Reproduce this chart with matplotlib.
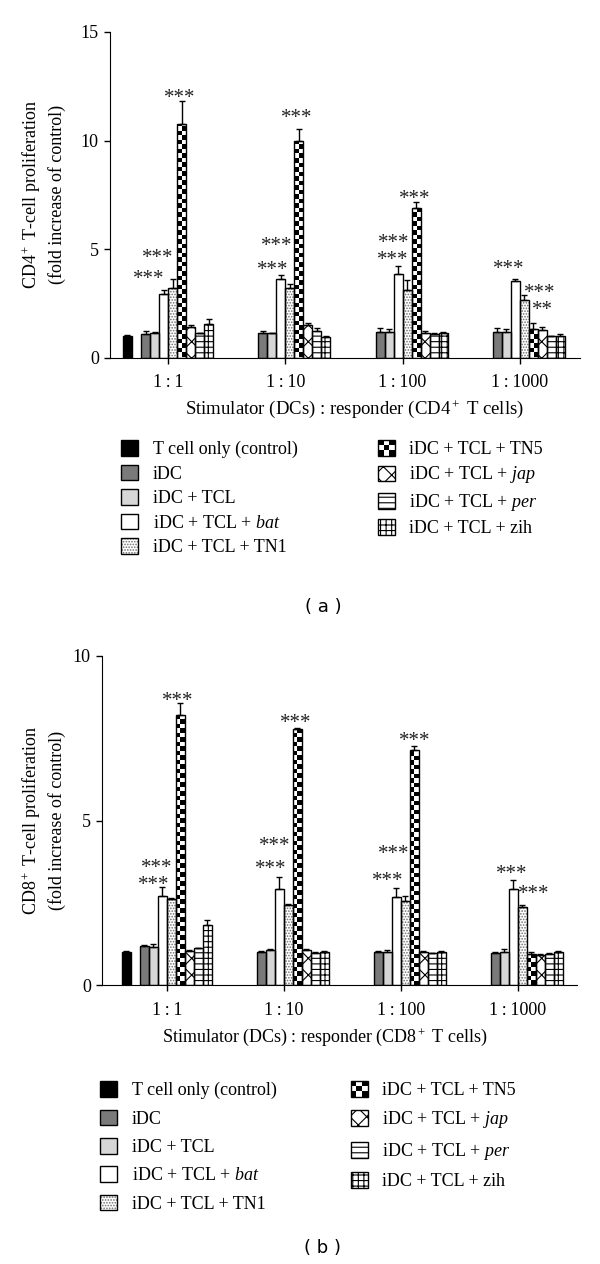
import numpy as np
import matplotlib
matplotlib.use('Agg')
import matplotlib.pyplot as plt
from matplotlib.patches import Rectangle
from matplotlib.legend_handler import HandlerBase

# Daten
groups = ['1\u2009:\u20091', '1\u2009:\u200910', '1\u2009:\u2009100', '1\u2009:\u20091000']
labels = ['T cell only (control)', 'iDC', 'iDC + TCL', 'iDC + TCL + $\\mathit{bat}$',
          'iDC + TCL + TN1', 'iDC + TCL + TN5', 'iDC + TCL + $\\mathit{jap}$',
          'iDC + TCL + $\\mathit{per}$', 'iDC + TCL + zih']
nan = np.nan

# CD4 (a)
cd4_ctrl = [1.00, nan, nan, nan]
cd4_idc = [1.10, 1.12, 1.17, 1.17]
cd4_tcl = [1.12, 1.12, 1.17, 1.17]
cd4_bat = [2.92, 3.61, 3.87, 3.52]
cd4_tn1 = [3.22, 3.18, 3.13, 2.64]
cd4_tn5 = [10.74, 9.97, 6.88, 1.33]
cd4_jap = [1.40, 1.51, 1.12, 1.28]
cd4_per = [1.12, 1.22, 1.06, 0.99]
cd4_zih = [1.56, 0.94, 1.12, 0.99]
cd4_ctrl_err = [0.04, nan, nan, nan]
cd4_idc_err = [0.12, 0.10, 0.18, 0.18]
cd4_tcl_err = [0.05, 0.03, 0.14, 0.14]
cd4_bat_err = [0.21, 0.20, 0.33, 0.12]
cd4_tn1_err = [0.40, 0.22, 0.45, 0.22]
cd4_tn5_err = [1.10, 0.58, 0.28, 0.25]
cd4_jap_err = [0.10, 0.10, 0.08, 0.12]
cd4_per_err = [0.02, 0.12, 0.06, 0.02]
cd4_zih_err = [0.23, 0.04, 0.05, 0.08]
# Sterne: Gruppe, Versatz, Hoehe, Text
cd4_star_group = [0, 0, 0, 1, 1, 1, 2, 2, 2, 3, 3, 3]
cd4_star_x = [1.3, -1.1, -2.1, 1.3, -1.0, -1.45, 1.3, -1.0, -1.1, -1.2, 2.2, 2.5]
cd4_star_y = [12.25, 4.86, 3.89, 11.3, 5.42, 4.3, 7.6, 5.55, 4.76, 4.34, 3.25, 2.45]
cd4_star_text = ['***'] * 11 + ['**']

# CD8 (b)
cd8_ctrl = [1.01, nan, nan, nan]
cd8_idc = [1.20, 1.01, 1.01, 0.98]
cd8_tcl = [1.17, 1.06, 1.01, 1.01]
cd8_bat = [2.72, 2.91, 2.68, 2.92]
cd8_tn1 = [2.62, 2.43, 2.56, 2.38]
cd8_tn5 = [8.20, 7.77, 7.14, 0.94]
cd8_jap = [1.04, 1.06, 1.01, 0.91]
cd8_per = [1.11, 0.98, 0.96, 0.94]
cd8_zih = [1.82, 1.01, 1.01, 1.01]
cd8_ctrl_err = [0.02, nan, nan, nan]
cd8_idc_err = [0.03, 0.03, 0.02, 0.03]
cd8_tcl_err = [0.07, 0.03, 0.04, 0.08]
cd8_bat_err = [0.25, 0.36, 0.28, 0.27]
cd8_tn1_err = [0.03, 0.04, 0.14, 0.05]
cd8_tn5_err = [0.36, 0.03, 0.12, 0.05]
cd8_jap_err = [0.02, 0.03, 0.02, 0.02]
cd8_per_err = [0.02, 0.02, 0.02, 0.03]
cd8_zih_err = [0.16, 0.03, 0.03, 0.03]
cd8_star_group = [0, 0, 0, 1, 1, 1, 2, 2, 2, 3, 3]
cd8_star_x = [1.2, -1.1, -1.4, 1.3, -1.0, -1.45, 1.6, -0.8, -1.4, -0.7, 1.8]
cd8_star_y = [8.81, 3.75, 3.22, 8.16, 4.41, 3.70, 7.60, 4.16, 3.34, 3.57, 2.95]
cd8_star_text = ['***'] * 11

# Stil
plt.rcParams['font.family'] = ['Liberation Serif', 'DejaVu Serif']
plt.rcParams['mathtext.fontset'] = 'custom'
plt.rcParams['mathtext.rm'] = 'Liberation Serif'
plt.rcParams['mathtext.it'] = 'Liberation Serif:italic'
plt.rcParams['mathtext.bf'] = 'Liberation Serif:bold'
plt.rcParams['hatch.linewidth'] = 0.8

fills = ['black', '#7a7a7a', '#d6d6d6', 'white', 'white', 'white', 'white', 'white', 'white']
hatches = [None, None, None, None, '......', None, 'xx', '---', '+++']
hcolors = ['black', 'black', 'black', 'black', '#6e6e6e', 'black', 'black', 'black', 'black']
offsets = [-4.5, -2.5, -1.5, -0.5, 0.5, 1.5, 2.5, 3.5, 4.5]
centers = np.arange(4) * 13.0
W, H = 600, 1264


class Checker:
    pass


class CheckerHandler(HandlerBase):
    def create_artists(self, legend, orig_handle, xdescent, ydescent, width, height, fontsize, trans):
        arts = []
        n = 3
        cw, ch = width / n, height / n
        for i in range(n):
            for j in range(n):
                c = 'black' if (i + j) % 2 == 0 else 'white'
                arts.append(Rectangle((-xdescent + i * cw, -ydescent + j * ch), cw, ch,
                                      facecolor=c, edgecolor='none', transform=trans))
        arts.append(Rectangle((-xdescent, -ydescent), width, height, facecolor='none',
                              edgecolor='black', lw=1.0, transform=trans))
        return arts


def panel(fig, rect, means, errs, stars, ymax, yticks, xlim, ylab, xlab, xlab_size):
    ax = fig.add_axes(rect)
    px_x = rect[2] * W / (xlim[1] - xlim[0])
    px_y = rect[3] * H / ymax
    cell_h = 0.5 * px_x / px_y
    for i in range(9):
        x = centers + offsets[i]
        m = np.array(means[i])
        e = np.array(errs[i])
        ok = np.isfinite(m)
        ax.bar(x[ok], m[ok], width=1.0, color=fills[i], hatch=hatches[i],
               edgecolor=hcolors[i], linewidth=0, zorder=2)
        outline = ax.bar(x[ok], m[ok], width=1.0, facecolor='none',
                         edgecolor='black', linewidth=1.0, zorder=3)
        if i == 5:
            # Schachbrett fuer TN5
            for r in outline.patches:
                n = int(np.ceil(r.get_height() / cell_h))
                arr = np.add.outer(np.arange(n), np.arange(2)) % 2
                im = ax.imshow(arr, cmap='binary', vmin=0, vmax=1, origin='lower',
                               extent=(r.get_x(), r.get_x() + 1, 0, n * cell_h),
                               interpolation='nearest', aspect='auto', zorder=2.5)
                im.set_clip_path(r)
        ax.errorbar(x[ok], m[ok], yerr=[np.zeros(ok.sum()), e[ok]], fmt='none',
                    ecolor='black', elinewidth=1.0, capsize=2.5, capthick=1.0, zorder=4)
    sg, sx, sy, st = stars
    for g, dx, y, t in zip(sg, sx, sy, st):
        ax.annotate(t, xy=(centers[g] + dx, y), xytext=(0, -8), textcoords='offset points',
                    ha='center', va='baseline', fontsize=15, color='#222222')
    ax.set_xlim(*xlim)
    ax.set_ylim(0, ymax)
    ax.set_yticks(yticks)
    ax.set_xticks(centers)
    ax.set_xticklabels(groups)
    ax.spines['top'].set_visible(False)
    ax.spines['right'].set_visible(False)
    ax.tick_params(axis='both', direction='out', length=4, width=1, labelsize=13)
    ax.tick_params(axis='x', pad=8)
    ax.tick_params(axis='y', pad=4)
    ax.set_ylabel(ylab, fontsize=13, linespacing=1.35)
    ax.set_xlabel(xlab, fontsize=xlab_size)
    return ax


fig = plt.figure(figsize=(6, 12.64), dpi=100)

ax1 = panel(fig, [110 / W, 1 - 357.5 / H, 470 / W, 325.5 / H],
            [cd4_ctrl, cd4_idc, cd4_tcl, cd4_bat, cd4_tn1, cd4_tn5, cd4_jap, cd4_per, cd4_zih],
            [cd4_ctrl_err, cd4_idc_err, cd4_tcl_err, cd4_bat_err, cd4_tn1_err, cd4_tn5_err,
             cd4_jap_err, cd4_per_err, cd4_zih_err],
            (cd4_star_group, cd4_star_x, cd4_star_y, cd4_star_text),
            15, [0, 5, 10, 15], (-6.44, 45.67),
            'CD4$^+$ T-cell proliferation\n(fold increase of control)',
            'Stimulator (DCs) : responder (CD4$^+$ T cells)', 13.5)
ax1.yaxis.set_label_coords((66 - 110) / 470, 0.5)
ax1.xaxis.set_label_coords((354 - 110) / 470, -0.125)

ax2 = panel(fig, [102 / W, 1 - 985 / H, 475 / W, 329 / H],
            [cd8_ctrl, cd8_idc, cd8_tcl, cd8_bat, cd8_tn1, cd8_tn5, cd8_jap, cd8_per, cd8_zih],
            [cd8_ctrl_err, cd8_idc_err, cd8_tcl_err, cd8_bat_err, cd8_tn1_err, cd8_tn5_err,
             cd8_jap_err, cd8_per_err, cd8_zih_err],
            (cd8_star_group, cd8_star_x, cd8_star_y, cd8_star_text),
            10, [0, 5, 10], (-7.2, 45.6),
            'CD8$^+$ T-cell proliferation\n(fold increase of control)',
            'Stimulator (DCs) : responder (CD8$^+$ T cells)', 13)
ax2.yaxis.set_label_coords((66 - 102) / 475, 0.5)
ax2.xaxis.set_label_coords((325 - 102) / 475, -0.125)

# Legenden
handles = []
for i in range(9):
    if i == 5:
        handles.append(Checker())
    else:
        handles.append((Rectangle((0, 0), 1, 1, facecolor=fills[i], hatch=hatches[i],
                                  edgecolor=hcolors[i], lw=0),
                        Rectangle((0, 0), 1, 1, facecolor='none', edgecolor='black', lw=1.0)))

for (hx, hy, sp, cs) in [(121, 440, 0.36, 4.45), (100, 1081, 0.58, 4.1)]:
    fig.legend(handles, labels, loc='upper left', bbox_to_anchor=(hx / W, 1 - hy / H),
               ncol=2, frameon=False, fontsize=13, handlelength=0.95, handleheight=0.95,
               handletextpad=0.8, columnspacing=cs, labelspacing=sp, borderpad=0,
               borderaxespad=0, handler_map={Checker: CheckerHandler()})

fig.text(323 / W, 1 - 607 / H, '( a )', ha='center', va='center', fontsize=13, family='DejaVu Sans')
fig.text(323 / W, 1 - 1248 / H, '( b )', ha='center', va='center', fontsize=13, family='DejaVu Sans')

fig.savefig('out.png', dpi=100)
